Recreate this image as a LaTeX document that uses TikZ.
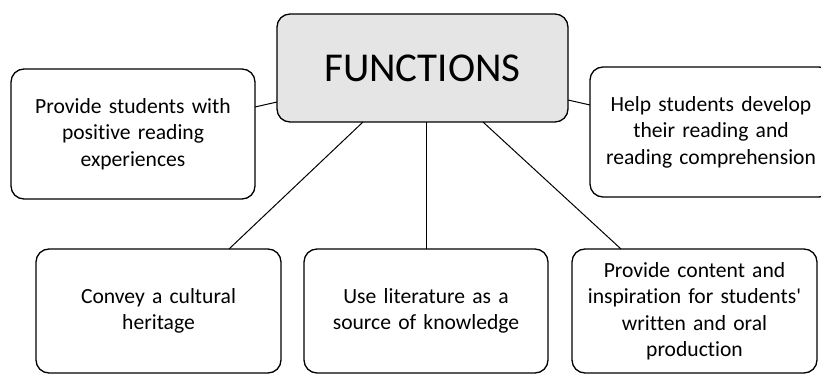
\documentclass[tikz,border=0pt]{standalone}
\usepackage{fontspec}
\setmainfont{Carlito}[Ligatures={TeXOff,NoCommon}]
\usetikzlibrary{positioning}

\definecolor{headgray}{HTML}{E5E5E5}

\tikzset{
  topic/.style={draw, line width=1.3pt, rounded corners=13pt, align=center,
    inner sep=0pt, outer sep=0pt, minimum height=#1,
    font=\fontsize{21.6}{26.5}\selectfont},
  topic/.default=130pt,
  link/.style={line width=1pt}
}

\begin{document}
\begin{tikzpicture}[x=1pt, y=1pt]
  \useasboundingbox (0,0) rectangle (821,-374);

  % The main box
  \node[topic=108pt, fill=headgray, text width=291pt,
        font=\fontsize{41}{48}\selectfont] (func) at (422.5,-68) {FUNCTIONS};

  % Boxes at the sides
  \node[topic, text width=244pt, left=22pt of func, yshift=-66pt] (positive)
    {Provide students with\\positive reading\\experiences};
  \node[topic, text width=242pt, right=22pt of func, yshift=-64pt] (develop)
    {Help students develop\\their reading and\\reading comprehension};

  % Boxes in the bottom row
  \node[topic=124pt, text width=244pt, below=127pt of func, xshift=3.5pt] (source)
    {Use literature as a\\source of knowledge};
  \node[topic=124pt, text width=245pt, left=23pt of source] (heritage)
    {Convey a cultural\\heritage};
  \node[topic=124pt, text width=245pt, right=24pt of source] (content)
    {Provide content and\\inspiration for students'\\written and oral\\production};

  %Draw the links
  \draw[link] ([yshift=-34pt]func.west) -- ([yshift=27pt]positive.east);
  \draw[link] ([yshift=-32pt]func.east) -- ([yshift=27pt]develop.west);
  \draw[link] ([xshift=-59.5pt]func.south) -- ([xshift=70.5pt]heritage.north);
  \draw[link] (source.north) -- (source.north |- func.south);
  \draw[link] ([xshift=60.5pt]func.south) -- ([xshift=-73.5pt]content.north);
\end{tikzpicture}
\end{document}
